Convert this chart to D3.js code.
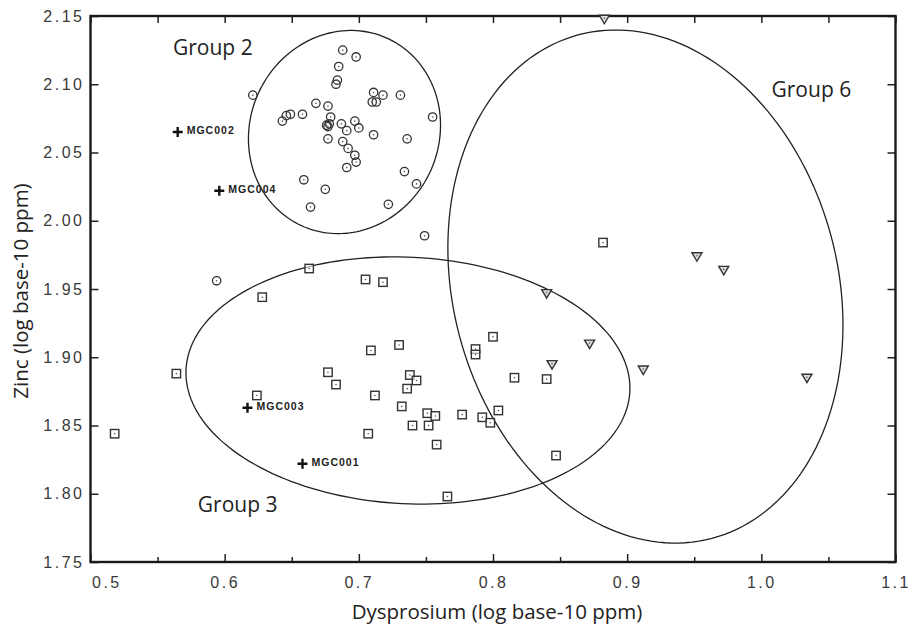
<!DOCTYPE html>
<html>
<head>
<meta charset="utf-8">
<script src="https://cdn.jsdelivr.net/npm/d3@7/dist/d3.min.js"></script>
<style>
  body { margin: 0; background: #fff; }
  .tick line { stroke: #222; stroke-width: 1.5px; }
  .tick text { font-family: "Liberation Sans", Arial, sans-serif; font-size: 16px; fill: #3a3a3a; letter-spacing: 2.5px; }
  .title { font-family: "Open Sans", sans-serif; fill: #222; }
</style>
</head>
<body>
<div id="chart"></div>
<script>
// Dy = log10 Dysprosium ppm, Zn = log10 Zinc ppm
var group2 = [
  [0.688, 2.125], [0.698, 2.120], [0.685, 2.113], [0.684, 2.103], [0.683, 2.100],
  [0.621, 2.092], [0.711, 2.094], [0.718, 2.092], [0.731, 2.092], [0.710, 2.087],
  [0.713, 2.087], [0.668, 2.086], [0.677, 2.084], [0.658, 2.078], [0.649, 2.078],
  [0.646, 2.077], [0.643, 2.073], [0.679, 2.076], [0.755, 2.076], [0.687, 2.071],
  [0.697, 2.073], [0.676, 2.070], [0.677, 2.069], [0.678, 2.071], [0.691, 2.066],
  [0.700, 2.068], [0.711, 2.063], [0.677, 2.060], [0.736, 2.060], [0.688, 2.058],
  [0.692, 2.053], [0.697, 2.048], [0.698, 2.043], [0.691, 2.039], [0.734, 2.036],
  [0.659, 2.030], [0.743, 2.027], [0.675, 2.023], [0.664, 2.010], [0.722, 2.012],
  [0.749, 1.989], [0.594, 1.956]
];
var group3 = [
  [0.663, 1.965], [0.705, 1.957], [0.718, 1.955], [0.628, 1.944], [0.709, 1.905],
  [0.564, 1.888], [0.677, 1.889], [0.683, 1.880], [0.624, 1.872], [0.712, 1.872],
  [0.707, 1.844], [0.518, 1.844], [0.882, 1.984], [0.800, 1.915], [0.730, 1.909],
  [0.787, 1.906], [0.787, 1.902], [0.816, 1.885], [0.840, 1.884], [0.738, 1.887],
  [0.743, 1.883], [0.736, 1.877], [0.732, 1.864], [0.751, 1.859], [0.757, 1.857],
  [0.777, 1.858], [0.792, 1.856], [0.804, 1.861], [0.798, 1.852], [0.740, 1.850],
  [0.752, 1.850], [0.758, 1.836], [0.847, 1.828], [0.766, 1.798]
];
var group6 = [
  [0.883, 2.148], [0.840, 1.947], [0.952, 1.974], [0.972, 1.964],
  [0.872, 1.910], [0.844, 1.895], [0.912, 1.891], [1.034, 1.885]
];
var unassigned = [
  ['MGC002', 0.565, 2.065], ['MGC004', 0.596, 2.022],
  ['MGC003', 0.617, 1.863], ['MGC001', 0.658, 1.822]
];
// fitted group ellipses: centre, semi-axes (data units), tilt (deg, screen clockwise)
var ellipseNames = ['Group 2', 'Group 3', 'Group 6'];
var ellipseCentres = [[0.6893, 2.0650], [0.7366, 1.8830], [0.9136, 1.9518]];
var ellipseRadii = [[0.0704, 0.0755], [0.1656, 0.0903], [0.1434, 0.1908]];
var ellipseTilts = [25, 2.85, -14.8];
var labelPositions = [[0.5615, 2.1214], [0.5800, 1.7868], [1.0076, 2.0909]];

var xMajor = [0.5, 0.6, 0.7, 0.8, 0.9, 1.0, 1.1];
var xMinor = [0.55, 0.65, 0.75, 0.85, 0.95, 1.05];
var xTickLabels = ['0.5', '0.6', '0.7', '0.8', '0.9', '1.0', '1.1'];
var yMajor = [1.75, 1.80, 1.85, 1.90, 1.95, 2.00, 2.05, 2.10, 2.15];
var yTickLabels = ['1.75', '1.80', '1.85', '1.90', '1.95', '2.00', '2.05', '2.10', '2.15'];

var width = 911, height = 625;
var margin = {left: 90.5, right: 15.5, top: 16, bottom: 63};

var svg = d3.select('#chart').append('svg')
    .attr('width', width)
    .attr('height', height);

var x = d3.scaleLinear().domain([0.5, 1.1]).range([margin.left, width - margin.right]);
var y = d3.scaleLinear().domain([1.75, 2.15]).range([height - margin.bottom, margin.top]);

// axes, ticks pointing inward
var bottom = svg.append('g').attr('transform', 'translate(0,' + y(1.75) + ')');
bottom.call(d3.axisBottom(x).tickValues(xMajor).tickSize(-8).tickPadding(15)
    .tickFormat(function(d, i) { return xTickLabels[i]; }));
bottom.select('.tick text').attr('text-anchor', 'start').attr('x', 1);
svg.append('g').attr('transform', 'translate(0,' + y(1.75) + ')')
    .call(d3.axisBottom(x).tickValues(xMinor).tickSize(-5).tickFormat(''));
svg.append('g').attr('transform', 'translate(0,' + y(2.15) + ')')
    .call(d3.axisTop(x).tickValues(xMajor.concat(xMinor)).tickSize(-7).tickFormat(''));
svg.append('g').attr('transform', 'translate(' + x(0.5) + ',0)')
    .call(d3.axisLeft(y).tickValues(yMajor).tickSize(-8).tickPadding(6)
        .tickFormat(function(d, i) { return yTickLabels[i]; }));
svg.append('g').attr('transform', 'translate(' + x(1.1) + ',0)')
    .call(d3.axisRight(y).tickValues(yMajor).tickSize(-8).tickFormat(''));
svg.selectAll('.domain').remove();

svg.append('rect')
    .attr('x', x(0.5)).attr('y', y(2.15))
    .attr('width', x(1.1) - x(0.5)).attr('height', y(1.75) - y(2.15))
    .attr('fill', 'none').attr('stroke', '#1a1a1a').attr('stroke-width', 2.4);

// ellipses
var ellipseLine = d3.line().curve(d3.curveLinearClosed);
ellipseCentres.forEach(function(c, k) {
    var cx = x(c[0]), cy = y(c[1]);
    var a = x(c[0] + ellipseRadii[k][0]) - cx;
    var b = cy - y(c[1] + ellipseRadii[k][1]);
    var th = ellipseTilts[k] * Math.PI / 180;
    var pts = d3.range(0, 360, 2).map(function(deg) {
        var t = deg * Math.PI / 180;
        return [cx + a * Math.cos(t) * Math.cos(th) - b * Math.sin(t) * Math.sin(th),
                cy + a * Math.cos(t) * Math.sin(th) + b * Math.sin(t) * Math.cos(th)];
    });
    svg.append('path').attr('d', ellipseLine(pts))
        .attr('fill', 'none').attr('stroke', '#222').attr('stroke-width', 1.3);
});

svg.selectAll('.group-label').data(ellipseNames).enter().append('text')
    .attr('class', 'title')
    .attr('x', function(d, i) { return x(labelPositions[i][0]); })
    .attr('y', function(d, i) { return y(labelPositions[i][1]); })
    .attr('font-size', '21px')
    .text(function(d) { return d; });

// group 2: circles
var g2 = svg.append('g');
g2.selectAll('circle.m').data(group2).enter().append('circle')
    .attr('cx', function(d) { return x(d[0]); })
    .attr('cy', function(d) { return y(d[1]); })
    .attr('r', 4.2).attr('fill', 'none').attr('stroke', '#333').attr('stroke-width', 1.3);
g2.selectAll('circle.dot').data(group2).enter().append('circle')
    .attr('cx', function(d) { return x(d[0]); })
    .attr('cy', function(d) { return y(d[1]); })
    .attr('r', 0.8).attr('fill', '#555');

// group 3: squares
var g3 = svg.append('g');
g3.selectAll('rect').data(group3).enter().append('rect')
    .attr('x', function(d) { return x(d[0]) - 4.2; })
    .attr('y', function(d) { return y(d[1]) - 4.2; })
    .attr('width', 8.4).attr('height', 8.4)
    .attr('fill', '#fff').attr('fill-opacity', 0.6)
    .attr('stroke', '#333').attr('stroke-width', 1.4);
g3.selectAll('circle').data(group3).enter().append('circle')
    .attr('cx', function(d) { return x(d[0]); })
    .attr('cy', function(d) { return y(d[1]); })
    .attr('r', 0.8).attr('fill', '#555');

// group 6: down triangles
var g6 = svg.append('g');
g6.selectAll('path').data(group6).enter().append('path')
    .attr('transform', function(d) { return 'translate(' + x(d[0]) + ',' + y(d[1]) + ')'; })
    .attr('d', 'M-5,-3.5L5,-3.5L0,5Z')
    .attr('fill', '#ddd').attr('stroke', '#333').attr('stroke-width', 1.4);
g6.selectAll('circle').data(group6).enter().append('circle')
    .attr('cx', function(d) { return x(d[0]); })
    .attr('cy', function(d) { return y(d[1]) - 0.5; })
    .attr('r', 0.8).attr('fill', '#555');

// unassigned samples
var un = svg.append('g').selectAll('g').data(unassigned).enter().append('g')
    .attr('transform', function(d) { return 'translate(' + x(d[1]) + ',' + y(d[2]) + ')'; });
un.append('path').attr('d', 'M-5,0H5M0,-5V5')
    .attr('stroke', '#111').attr('stroke-width', 2.4);
un.append('text').attr('x', 9).attr('y', 2)
    .attr('font-family', '"Liberation Sans", Arial, sans-serif')
    .attr('font-weight', 'bold').attr('font-size', '10.5px')
    .attr('letter-spacing', '1px').attr('fill', '#222')
    .text(function(d) { return d[0]; });

// axis titles
svg.append('text').attr('class', 'title')
    .attr('x', (x(0.5) + x(1.1)) / 2 + 4).attr('y', 619)
    .attr('text-anchor', 'middle').attr('font-size', '20.5px')
    .text('Dysprosium (log base-10 ppm)');
svg.append('text').attr('class', 'title')
    .attr('transform', 'translate(28,' + ((y(1.75) + y(2.15)) / 2 + 2) + ') rotate(-90)')
    .attr('text-anchor', 'middle').attr('font-size', '20.5px')
    .text('Zinc (log base-10 ppm)');
</script>
</body>
</html>
